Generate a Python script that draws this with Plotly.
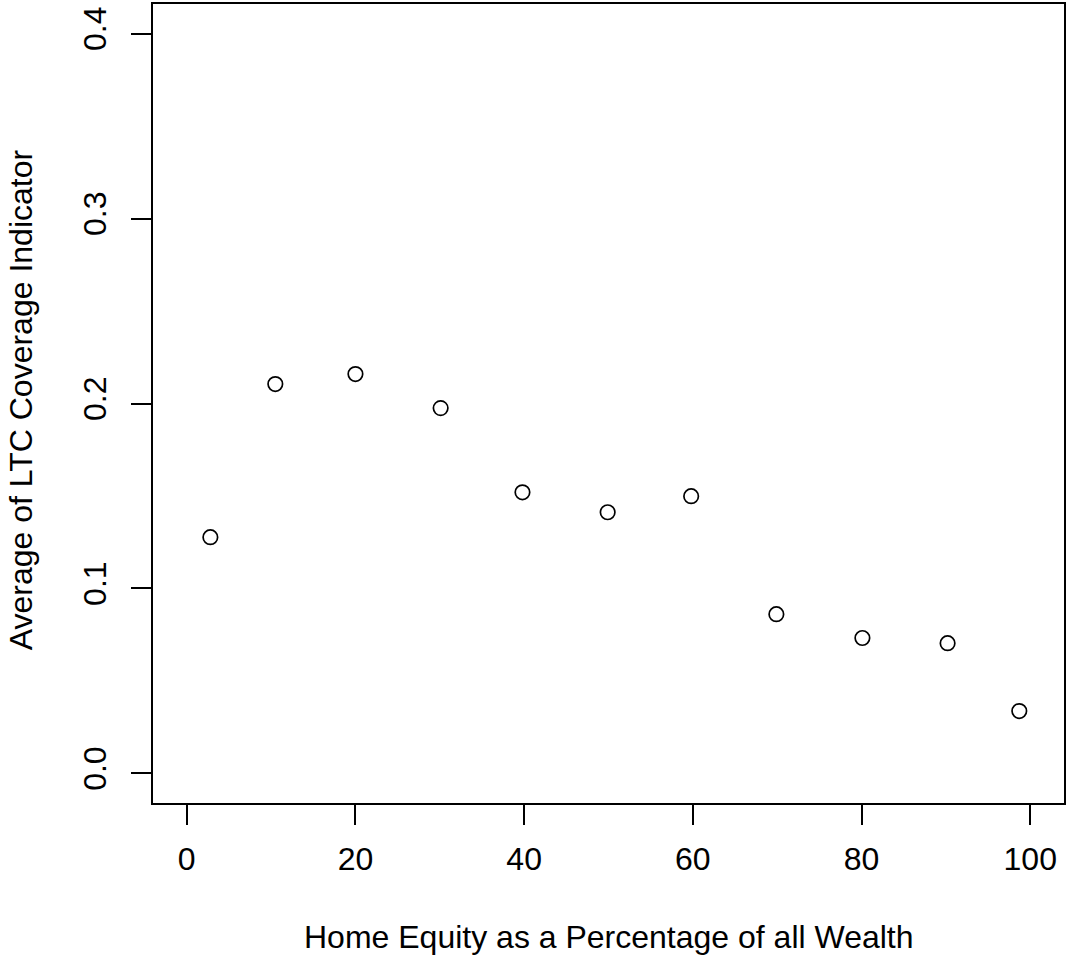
import plotly.graph_objects as go

home_equity_pct = [2.8, 10.5, 20.0, 30.1, 39.8, 49.9, 59.8, 69.9, 80.1, 90.2, 98.7]
ltc_coverage = [0.1277, 0.2105, 0.2159, 0.1975, 0.1520, 0.1412, 0.1499, 0.0861, 0.0732, 0.0704, 0.0337]
x_ticks = [0, 20, 40, 60, 80, 100]
y_ticks = [0.0, 0.1, 0.2, 0.3, 0.4]
x_title = "Home Equity as a Percentage of all Wealth"
y_title = "Average of LTC Coverage Indicator"

FONT = "Liberation Sans, Arial, sans-serif"
FS = 32

fig = go.Figure()
fig.add_trace(go.Scatter(
    x=home_equity_pct, y=ltc_coverage, mode="markers",
    marker=dict(symbol="circle-open", size=14.5, color="black", line=dict(width=1.7, color="black")),
    showlegend=False, hoverinfo="skip",
))

axis_common = dict(
    showgrid=False, zeroline=False, showline=True, linecolor="black", linewidth=1.8,
    mirror=True, ticks="outside", ticklen=20, tickwidth=1.8, tickcolor="black",
    tickfont=dict(family=FONT, size=FS, color="black"),
)

fig.update_layout(
    width=1067, height=956,
    margin=dict(l=153, r=1, t=4, b=153),
    paper_bgcolor="white", plot_bgcolor="white",
    xaxis=dict(range=[-4, 104], tickvals=x_ticks, ticktext=[str(v) for v in x_ticks],
               ticklabelstandoff=7, **axis_common),
    yaxis=dict(range=[-0.016, 0.416], tickvals=y_ticks, ticktext=[f"{v:.1f}" for v in y_ticks],
               tickangle=-90, ticklabelstandoff=12, **axis_common),
    annotations=[
        dict(text=x_title, xref="paper", yref="paper", x=0.5, y=-134 / 799,
             xanchor="center", yanchor="middle", showarrow=False,
             font=dict(family=FONT, size=FS, color="black")),
        dict(text=y_title, xref="paper", yref="paper", x=(21 - 153) / 913, y=(803 - 400) / 799,
             xanchor="center", yanchor="middle", textangle=-90, showarrow=False,
             font=dict(family=FONT, size=FS, color="black")),
    ],
)

fig.write_html("out.html", config={"displayModeBar": False},
               post_script="document.body.style.margin='0';document.body.style.overflow='hidden';")
